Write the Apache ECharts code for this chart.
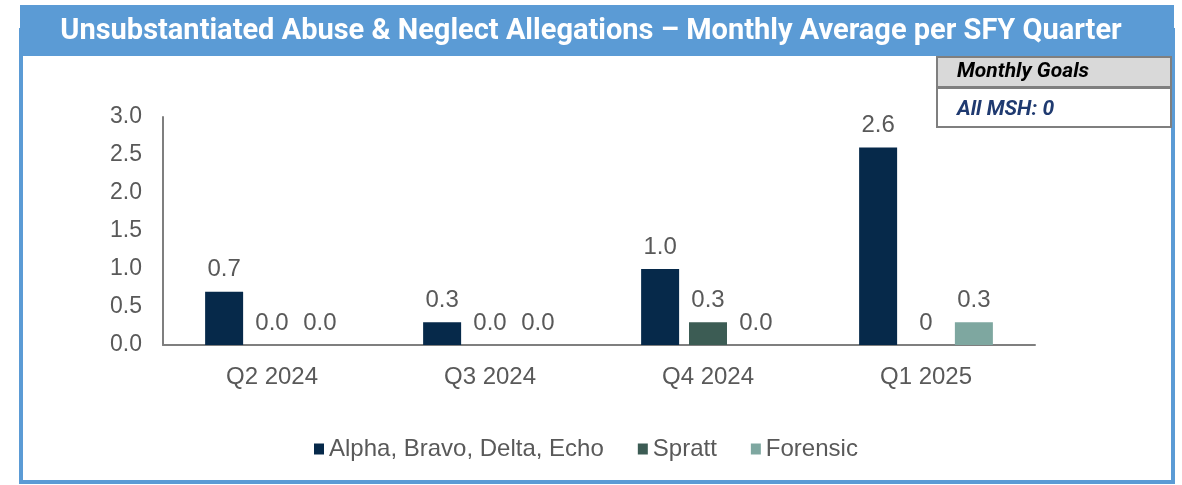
<!DOCTYPE html>
<html>
<head>
<meta charset="utf-8">
<script src="https://cdn.jsdelivr.net/npm/echarts@6/dist/echarts.min.js"></script>
<style>
  html, body { margin: 0; padding: 0; background: #fff; }
  #chart_box { width: 1182px; height: 485px; }
</style>
</head>
<body>
<div id="chart_box"></div>
<script>
// 数据
var quarters = ["Q2 2024", "Q3 2024", "Q4 2024", "Q1 2025"];
var seriesNames = ["Alpha, Bravo, Delta, Echo", "Spratt", "Forensic"];
var alphaVals = [0.7, 0.3, 1.0, 2.6];
var sprattVals = [0, 0, 0.3, 0];
var forensicVals = [0, 0, 0, 0.3];
// labels as printed on the chart
var alphaLabels = ["0.7", "0.3", "1.0", "2.6"];
var sprattLabels = ["0.0", "0.0", "0.3", "0"];
var forensicLabels = ["0.0", "0.0", "0.0", "0.3"];
var yTicks = [0, 0.5, 1.0, 1.5, 2.0, 2.5, 3.0];

var titleText = "Unsubstantiated Abuse & Neglect Allegations \u2013 Monthly Average per SFY Quarter";
var colors = ["#06294a", "#3c5c54", "#7ea7a0"];

function mkSeries(i, vals, labels) {
  return {
    name: seriesNames[i],
    type: "bar",
    barWidth: 38,
    barGap: "26%",
    itemStyle: { color: colors[i] },
    label: {
      show: true,
      position: "top",
      distance: 10,
      color: "#595959",
      fontFamily: "Liberation Sans",
      fontSize: 24,
      formatter: function (p) { return labels[p.dataIndex]; }
    },
    data: vals
  };
}

var myChart = echarts.init(document.getElementById("chart_box"));
var option = {
  animation: false,
  backgroundColor: "#fff",
  title: {
    text: titleText,
    left: "center",
    top: 12,
    textStyle: {
      color: "#fff",
      fontFamily: "Roboto",
      fontWeight: "bold",
      fontSize: 29
    }
  },
  graphic: [
    // outer frame
    { type: "rect", z: -1, shape: { x: 21, y: 30, width: 1152, height: 452 },
      style: { fill: "#fff", stroke: "#5b9bd5", lineWidth: 4 } },
    { type: "rect", z: 0, shape: { x: 20, y: 5, width: 1154, height: 51 },
      style: { fill: "#5b9bd5" } },
    // goals box
    { type: "rect", shape: { x: 937, y: 57, width: 234, height: 30 },
      style: { fill: "#d9d9d9", stroke: "#7f7f7f", lineWidth: 2 } },
    { type: "rect", shape: { x: 937, y: 88, width: 234, height: 39 },
      style: { fill: "#fff", stroke: "#7f7f7f", lineWidth: 2 } },
    { type: "text", x: 957, y: 72,
      style: { text: "Monthly Goals", fill: "#000", font: "italic bold 21px Roboto", verticalAlign: "middle" } },
    { type: "text", x: 957, y: 110,
      style: { text: "All MSH: 0", fill: "#1f3a70", font: "italic bold 21px Roboto", verticalAlign: "middle" } }
  ],
  legend: {
    data: seriesNames,
    top: 432,
    left: 309,
    itemWidth: 10,
    itemHeight: 11,
    itemGap: 34,
    icon: "rect",
    textStyle: { color: "#595959", fontFamily: "Liberation Sans", fontSize: 24 }
  },
  grid: { left: 163, right: 147, top: 117, bottom: 140 },
  xAxis: {
    type: "category",
    data: quarters,
    axisLine: { lineStyle: { color: "#7f7f7f", width: 2 } },
    axisTick: { show: false },
    axisLabel: { color: "#595959", fontFamily: "Liberation Sans", fontSize: 24, margin: 20 }
  },
  yAxis: {
    type: "value",
    min: 0,
    max: 3,
    interval: 0.5,
    axisLine: { show: true, lineStyle: { color: "#7f7f7f", width: 2 } },
    axisTick: { show: false },
    splitLine: { show: false },
    axisLabel: {
      color: "#595959",
      fontFamily: "Liberation Sans",
      fontSize: 23,
      margin: 21,
      formatter: function (v) { return v.toFixed(1); }
    }
  },
  series: [
    mkSeries(0, alphaVals, alphaLabels),
    mkSeries(1, sprattVals, sprattLabels),
    mkSeries(2, forensicVals, forensicLabels)
  ]
};
myChart.setOption(option);
</script>
</body>
</html>
